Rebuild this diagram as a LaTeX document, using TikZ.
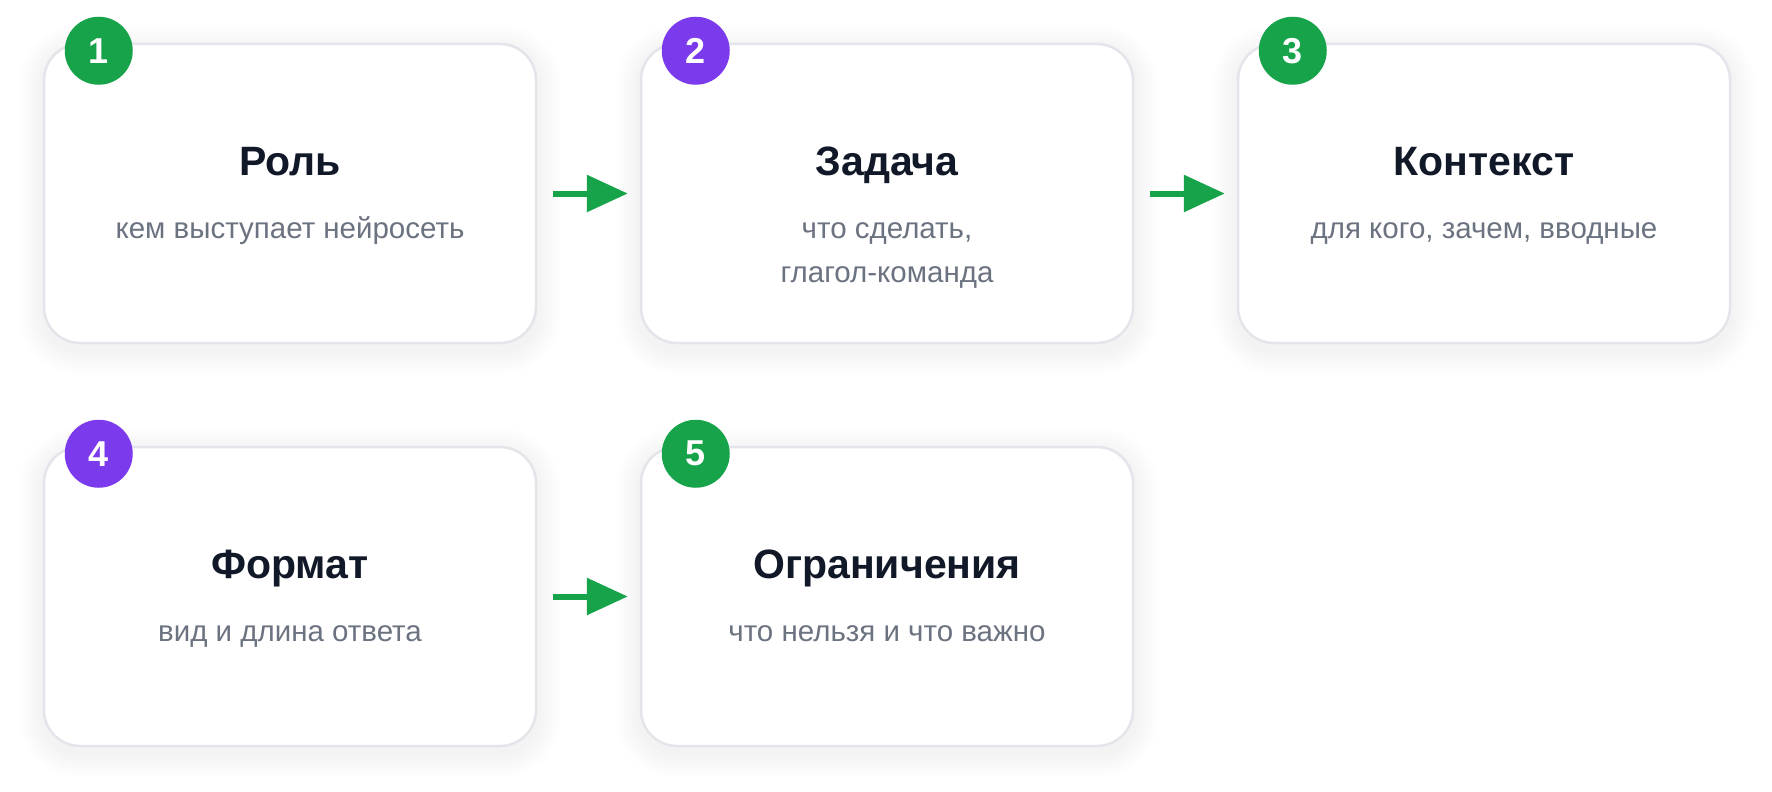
\documentclass[tikz,border=0pt]{standalone}
\usepackage{fontspec}
\setmainfont{Liberation Sans}
\usetikzlibrary{arrows.meta,calc,backgrounds}
\definecolor{grn}{HTML}{16A34A}
\definecolor{prp}{HTML}{7C3AED}
\definecolor{ttl}{HTML}{111827}
\definecolor{subc}{HTML}{6B7280}
\definecolor{brd}{HTML}{E3E5EA}
\definecolor{shd}{HTML}{1F2937}
\begin{document}
\begin{tikzpicture}[x=1pt,y=-1pt,
  card/.style={draw=brd, line width=2.5pt, fill=white, rounded corners=36pt,
    minimum width=492pt, minimum height=299pt, inner sep=0pt},
  badge/.style={circle, minimum size=68pt, inner sep=0pt, text=white,
    font=\fontsize{36}{42}\selectfont\bfseries},
  ttlnode/.style={anchor=base, text=ttl, inner sep=0pt, font=\fontsize{41}{49}\selectfont\bfseries},
  subnode/.style={anchor=base, text=subc, inner sep=0pt, font=\fontsize{29.5}{36}\selectfont},
  arr/.style={draw=grn, line width=6pt, -{Triangle[length=41pt,width=36pt]}}
]
\useasboundingbox (0,0) rectangle (1772,792);

\node[card] (c1) at (290,193.5) {};
\node[card] (c2) at (887,193.5) {};
\node[card] (c3) at (1484,193.5) {};
\node[card] (c4) at (290,596.5) {};
\node[card] (c5) at (887,596.5) {};

\begin{scope}[on background layer]
  \fill[white] (0,0) rectangle (1772,792);
  \foreach \c in {c1,c2,c3,c4,c5}{
    \foreach \i in {2,4,...,24}{
      \fill[shd, opacity=0.0042, rounded corners={36pt+\i pt}]
        ($(\c.south west)+(-\i,\i+6)$) rectangle ($(\c.north east)+(\i,-\i+6)$);
    }
  }
\end{scope}

\node[badge, fill=grn] (b1) at ($(c1.north west)+(56,8)$) {1};
\node[badge, fill=prp] (b2) at ($(c2.north west)+(56,8)$) {2};
\node[badge, fill=grn] (b3) at ($(c3.north west)+(56,8)$) {3};
\node[badge, fill=prp] (b4) at ($(c4.north west)+(56,8)$) {4};
\node[badge, fill=grn] (b5) at ($(c5.north west)+(56,8)$) {5};

\node[ttlnode] (t1) at ($(c1.north)+(0,133)$) {Роль};
\node[subnode] (s1) at ($(c1.north)+(0,196)$) {кем выступает нейросеть};

\node[ttlnode] (t2) at ($(c2.north)+(0,133)$) {Задача};
\node[subnode] (s2a) at ($(c2.north)+(0,196)$) {что сделать,};
\node[subnode] (s2b) at ($(c2.north)+(0,240)$) {глагол-команда};

\node[ttlnode] (t3) at ($(c3.north)+(0,133)$) {Контекст};
\node[subnode] (s3) at ($(c3.north)+(0,196)$) {для кого, зачем, вводные};

\node[ttlnode] (t4) at ($(c4.north)+(0,133)$) {Формат};
\node[subnode] (s4) at ($(c4.north)+(0,196)$) {вид и длина ответа};

\node[ttlnode] (t5) at ($(c5.north)+(0,133)$) {Ограничения};
\node[subnode] (s5) at ($(c5.north)+(0,196)$) {что нельзя и что важно};

\draw[arr] ([xshift=16pt]c1.east) -- ([xshift=-12pt]c2.west);
\draw[arr] ([xshift=16pt]c2.east) -- ([xshift=-12pt]c3.west);
\draw[arr] ([xshift=16pt]c4.east) -- ([xshift=-12pt]c5.west);
\end{tikzpicture}
\end{document}
